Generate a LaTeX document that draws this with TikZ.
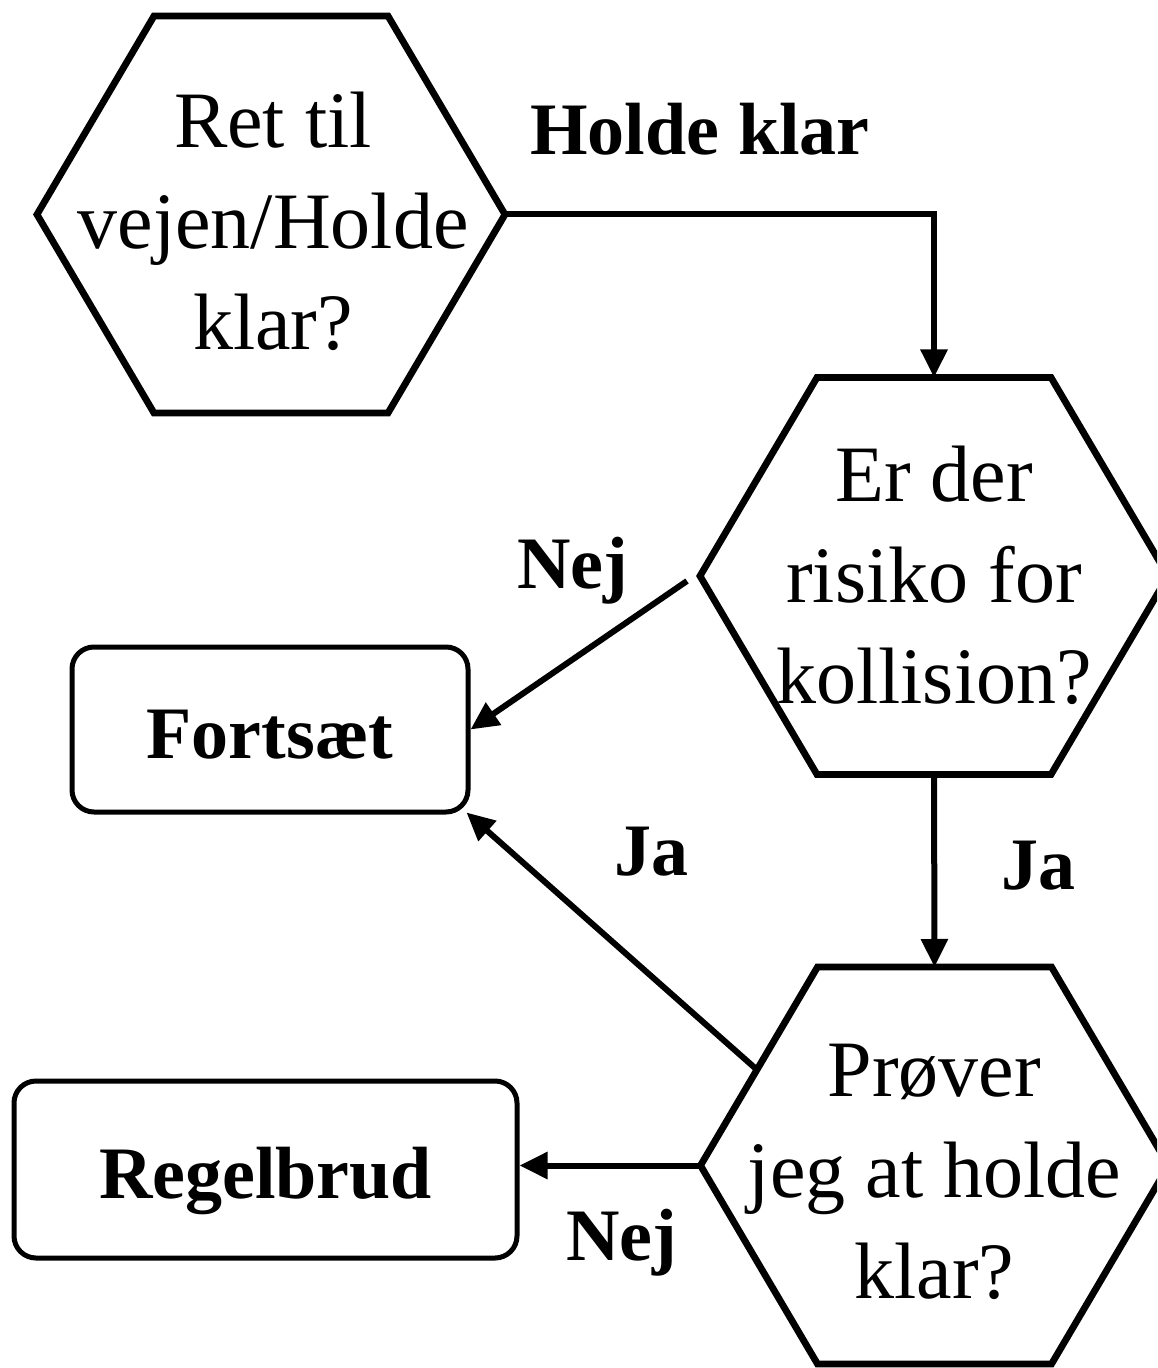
\documentclass[tikz,border=0pt]{standalone}
\usepackage{fontspec}
\setmainfont{Liberation Serif}
\usetikzlibrary{arrows.meta}
\tikzset{
  hexline/.style={line width=3.4pt, line join=miter},
  hextext/.style={align=center, inner sep=0pt, font=\fontsize{40}{50.5}\selectfont},
  boxnode/.style={draw, line width=2.5pt, rounded corners=11pt, inner sep=0pt,
    text height=29pt, text depth=0pt,
    font=\fontsize{37}{44}\selectfont\bfseries},
  lbl/.style={inner sep=0pt, anchor=base, font=\fontsize{37}{44}\selectfont\bfseries},
  conn/.style={line width=3pt, -{Triangle[length=14pt,width=13pt]}},
}
\newcommand\hexshape[3]{%
  \coordinate (#1-l) at (#2-234,#3);
  \coordinate (#1-r) at (#2+234,#3);
  \coordinate (#1-tl) at (#2-117,#3-198.5);
  \coordinate (#1-tr) at (#2+117,#3-198.5);
  \coordinate (#1-bl) at (#2-117,#3+198.5);
  \coordinate (#1-br) at (#2+117,#3+198.5);
  \coordinate (#1-t) at (#2,#3-198.5);
  \coordinate (#1-b) at (#2,#3+198.5);
  \draw[hexline] (#1-l) -- (#1-tl) -- (#1-tr) -- (#1-r) -- (#1-br) -- (#1-bl) -- cycle;}
\begin{document}
\begin{tikzpicture}[x=0.5pt,y=-0.5pt]
\useasboundingbox (0,0) rectangle (1157,1368);
\clip (0,0) rectangle (1157,1368);
\fill[white] (0,0) rectangle (1157,1368);

% hexagons
\hexshape{h1}{271}{214.5}
\hexshape{h2}{934}{576}
\hexshape{h3}{934.5}{1165.5}

\node[hextext] (q1) at (273,221) {Ret til\\vejen/Holde\\klar?};
\node[hextext] (q2) at (934,575) {Er der\\risiko for\\kollision?};
\node[hextext] (q3) at (934.5,1172) {Prøver\\jeg at holde\\klar?};

% boxes
\node[boxnode, minimum width=198pt, minimum height=82.5pt] (fort) at (270,729.5) {Fortsæt};
\node[boxnode, minimum width=251.5pt, minimum height=88.5pt] (reg) at (265.5,1169.5) {Regelbrud};

% free connector ends
\coordinate (n2s) at (687,581);
\coordinate (j3s) at (755,1068);

% connectors
\draw[conn] (h1-r) -| (h2-t);
\draw[conn] (n2s) -- (fort.east);
\draw[conn] (h2-b) -- (h3-t);
\draw[conn] (j3s) -- ([xshift=-2pt,yshift=1pt]fort.south east);
\draw[conn] (h3-l) -- (h3-l -| reg.east);

% labels
\node[lbl] (lholde) at (700,155) {Holde klar};
\node[lbl] (lnej1) at (573,588) {Nej};
\node[lbl] (lja1) at (651,875) {Ja};
\node[lbl] (lja2) at (1038,889) {Ja};
\node[lbl] (lnej2) at (622,1260) {Nej};
\end{tikzpicture}
\end{document}
